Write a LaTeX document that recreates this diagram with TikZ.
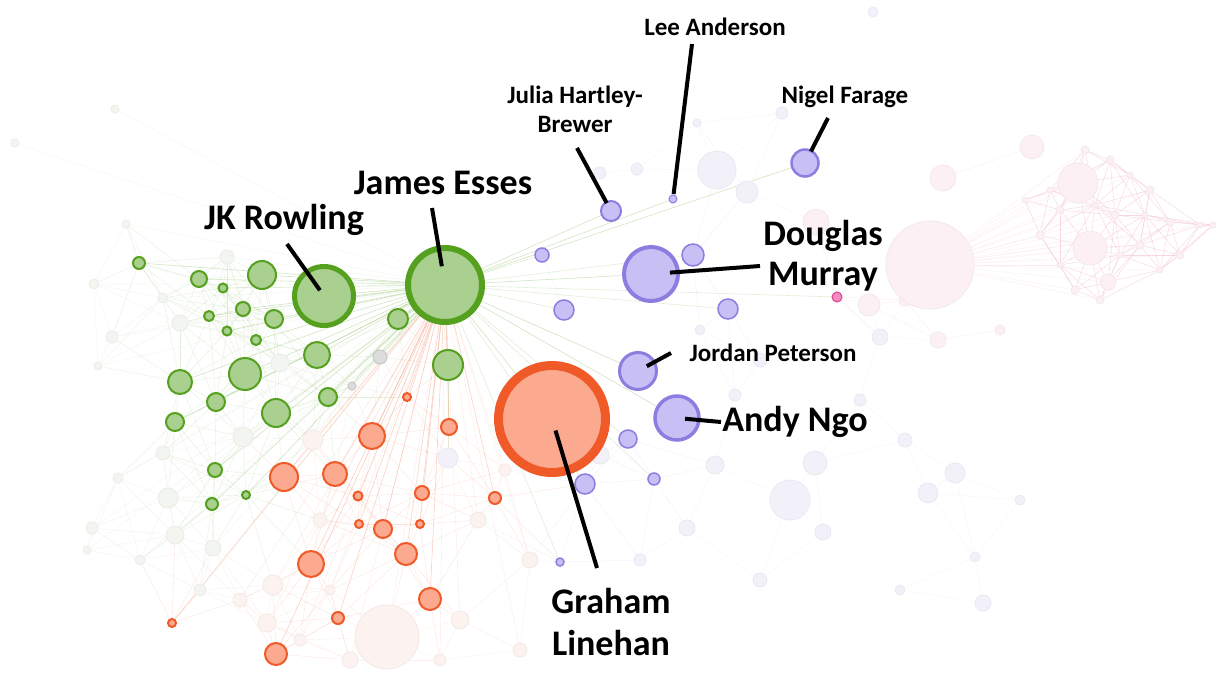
\documentclass[tikz,border=0pt]{standalone}
\usepackage{fontspec}
\setmainfont{Carlito}
\usetikzlibrary{positioning,calc}
\pgfdeclarelayer{bg}
\pgfsetlayers{bg,main}

\definecolor{grfill}{HTML}{A9D08E}
\definecolor{grline}{HTML}{55A01E}
\definecolor{orfill}{HTML}{FBAA90}
\definecolor{orline}{HTML}{F05A28}
\definecolor{pufill}{HTML}{C8C0F5}
\definecolor{puline}{HTML}{8C7DE1}
\definecolor{gyfill}{HTML}{DCDCDC}
\definecolor{gyline}{HTML}{C8C8C8}
\definecolor{hpfill}{HTML}{F28CC0}
\definecolor{hpline}{HTML}{E0408A}
\definecolor{fgfill}{HTML}{F2F5F0}
\definecolor{fofill}{HTML}{FCF2EF}
\definecolor{flfill}{HTML}{F2F1FA}
\definecolor{fpfill}{HTML}{FCF0F5}

\tikzset{
  gnode/.style={circle, draw=grline, fill=grfill, line width=2pt, inner sep=0pt},
  onode/.style={circle, draw=orline, fill=orfill, line width=2pt, inner sep=0pt},
  pnode/.style={circle, draw=puline, fill=pufill, line width=1.5pt, inner sep=0pt},
  ynode/.style={circle, draw=gyline, fill=gyfill, line width=1pt, inner sep=0pt},
  hnode/.style={circle, draw=hpline, fill=hpfill, line width=1pt, inner sep=0pt},
  fadeg/.style={circle, draw=fgfill!93!gray, fill=fgfill, line width=0.8pt, inner sep=0pt},
  fadeo/.style={circle, draw=fofill!93!gray, fill=fofill, line width=0.8pt, inner sep=0pt},
  fadel/.style={circle, draw=flfill!93!gray, fill=flfill, line width=0.8pt, inner sep=0pt},
  fadep/.style={circle, draw=fpfill!93!gray, fill=fpfill, line width=0.8pt, inner sep=0pt},
  % web of faint edges, coloured by the first end
  edgegnode/.style={draw=grline!35, line width=0.35pt, opacity=0.45},
  edgeonode/.style={draw=orline!35, line width=0.35pt, opacity=0.45},
  edgepnode/.style={draw=puline!30, line width=0.35pt, opacity=0.4},
  edgeynode/.style={draw=gray!30, line width=0.35pt, opacity=0.4},
  edgehnode/.style={draw=hpline!30, line width=0.35pt, opacity=0.4},
  edgefadeg/.style={draw=gray!25, line width=0.35pt, opacity=0.4},
  edgefadeo/.style={draw=orline!25, line width=0.35pt, opacity=0.4},
  edgefadel/.style={draw=puline!20, line width=0.35pt, opacity=0.4},
  edgefadep/.style={draw=hpline!25, line width=0.35pt, opacity=0.4},
  % fan out of James Esses
  fangnode/.style={draw=grline!60, line width=0.6pt, opacity=0.45},
  fanonode/.style={draw=orline!60, line width=0.6pt, opacity=0.45},
  fanpnode/.style={draw=grline!35, line width=0.6pt, opacity=0.5},
  fanynode/.style={draw=grline!40, line width=0.6pt, opacity=0.4},
  fanhnode/.style={draw=grline!35, line width=0.6pt, opacity=0.5},
  fanfadeg/.style={draw=grline!25, line width=0.4pt, opacity=0.3},
  fanfadeo/.style={draw=orline!35, line width=0.4pt, opacity=0.35},
  fanfadel/.style={draw=none}, fanfadep/.style={draw=none},
  pinkedge/.style={draw=hpline!45, line width=0.45pt, opacity=0.45},
  lbl/.style={font=\fontsize{25}{29}\selectfont\bfseries, align=center, inner sep=0pt},
  biglbl/.style={font=\fontsize{36}{40}\selectfont\bfseries, align=center, inner sep=0pt},
  pointer/.style={line width=4pt, black},
}

% x/y/radius/kind
\def\allnodes{%
139/263/6/gnode, 199/279/8/gnode, 223/288/4.5/gnode, 262/275/14/gnode, 243/309/7/gnode,
209/316/5/gnode, 227/331/4.5/gnode, 256/340/5/gnode, 274/319/9/gnode, 398/319/10/gnode,
317/355/13/gnode, 448/365/15/gnode, 245/374/16/gnode, 180/382/12/gnode, 216/402/9/gnode,
328/397/9/gnode, 276/413/14/gnode, 175/422/9/gnode, 215/470/7/gnode, 246/495/4/gnode,
212/504/6/gnode,
380/357/7/ynode, 352/386/4/ynode,
407/397/4/onode, 449/427/8/onode, 372/436/13/onode, 284/477/14/onode, 335/474/12/onode,
358/496/4.5/onode, 422/493/7/onode, 495/498/6/onode, 359/524/4/onode, 383/529/9/onode,
420/524/4/onode, 406/554/11/onode, 311/564/13/onode, 430/599/11/onode, 338/618/6/onode,
172/623/4/onode, 276/654/11/onode,
542/255/7/pnode, 693/255/11/pnode, 564/310/10/pnode, 728/309/10/pnode, 628/439/9/pnode,
585/484/10/pnode, 654/479/6/pnode, 560/562/4/pnode,
837/297/5/hnode,
115/109/4/fadeg, 15/143/4/fadeg, 126/224/4/fadeg, 227/257/7/fadeg, 163/298/5/fadeg,
180/323/8/fadeg, 94/284/5/fadeg, 112/337/6/fadeg, 98/366/4/fadeg, 280/363/9/fadeg,
243/437/10/fadeg, 163/453/7/fadeg, 118/478/5/fadeg, 168/498/10/fadeg, 175/535/9/fadeg,
92/528/6/fadeg, 87/550/4/fadeg, 213/548/8/fadeg, 140/560/5/fadeg, 200/590/6/fadeg,
313/440/10/fadeo, 273/585/10/fadeo, 240/600/7/fadeo, 267/623/9/fadeo, 387/637/32/fadeo,
478/520/8/fadeo, 530/560/8/fadeo, 460/620/9/fadeo, 350/660/8/fadeo, 520/650/7/fadeo,
505/470/6/fadeo, 320/520/7/fadeo, 300/640/6/fadeo, 440/660/6/fadeo, 330/590/5/fadeo,
717/170/19/fadel, 747/192/11/fadel, 637/169/6/fadel, 782/113/6/fadel, 600/173/6/fadel,
697/123/4/fadel, 873/12/5/fadel, 790/500/20/fadel, 815/463/12/fadel, 928/493/10/fadel,
955/473/10/fadel, 823/532/8/fadel, 715/465/9/fadel, 687/528/8/fadel, 983/603/8/fadel,
975/557/5/fadel, 880/337/8/fadel, 448/458/10/fadel, 600/455/9/fadel, 735/395/6/fadel,
860/400/6/fadel, 905/440/7/fadel, 1020/500/5/fadel, 760/360/7/fadel, 700/330/5/fadel,
640/560/6/fadel, 760/580/7/fadel, 900/590/5/fadel,
1032/147/12/fadep, 943/178/13/fadep, 816/222/13/fadep, 869/305/11/fadep, 938/340/8/fadep,
905/300/6/fadep, 1000/330/5/fadep}

% the pink cluster on the right
\def\pinkset{%
1078/183/20, 1090/248/17, 1108/282/8, 1085/150/4, 1110/160/4, 1150/190/4, 1170/222/4,
1140/245/4, 1060/210/4, 1040/235/4, 1115/215/4, 1180/255/4, 1100/300/4, 1075/290/4,
1050/190/3, 1025/200/3, 1200/225/3, 1213/225/3, 1130/175/3, 1160/270/3, 1060/265/3,
1120/255/3, 1095/205/3, 1145/215/3}

\begin{document}
\begin{tikzpicture}[x=1pt, y=-1pt]
    \useasboundingbox (0,0) rectangle (1218,688);

    % small nodes
    \foreach \x/\y/\r/\k [count=\i] in \allnodes
        \node[\k, minimum size=2*\r pt] (n\i) at (\x,\y) {};
    \foreach \x/\y/\r [count=\i] in \pinkset
        \node[fadep, minimum size=2*\r pt] (c\i) at (\x,\y) {};
    \node[fadep, minimum size=88pt] (pbig) at (930,265) {};

    % the named accounts
    \node[gnode, line width=5pt, minimum size=59pt] (rowling) at (324,296) {};
    \node[gnode, line width=6pt, minimum size=74pt] (esses) at (445,285) {};
    \node[onode, line width=9pt, minimum size=107pt] (linehan) at (552,419) {};
    \node[pnode, line width=4pt, minimum size=54pt] (murray) at (651,274) {};
    \node[pnode, line width=3pt, minimum size=37pt] (peterson) at (638,371) {};
    \node[pnode, line width=3.5pt, minimum size=44pt] (ngo) at (677,418) {};
    \node[pnode, line width=2.5pt, minimum size=27pt] (farage) at (805,163) {};
    \node[pnode, line width=2pt, minimum size=20pt] (hartley) at (611,211) {};
    \node[pnode, line width=1pt, minimum size=8pt] (anderson) at (673,199) {};

    \begin{pgfonlayer}{bg}
        \fill[white] (0,0) rectangle (1218,688);
        % faint web between close nodes
        \foreach \xa/\ya/\ra/\ka [count=\i] in \allnodes {
            \foreach \xb/\yb/\rb/\kb [count=\j] in \allnodes {
                \ifnum\j>\i
                    \pgfmathsetmacro\dd{veclen(\xa-\xb,\ya-\yb)}
                    \ifdim\dd pt<95pt \draw[edge\ka] (n\i) -- (n\j); \fi
                \fi
            }
            \draw[fan\ka] (esses) -- (n\i);
        }
        \foreach \xa/\ya/\ra [count=\i] in \pinkset {
            \foreach \xb/\yb/\rb [count=\j] in \pinkset {
                \ifnum\j>\i
                    \pgfmathsetmacro\dd{veclen(\xa-\xb,\ya-\yb)}
                    \ifdim\dd pt<70pt \draw[pinkedge] (c\i) -- (c\j); \fi
                \fi
            }
            \draw[edgefadep] (pbig) -- (c\i);
        }
        \foreach \t in {rowling, linehan, murray, peterson, ngo, farage, hartley, anderson}
            \draw[fangnode] (esses) -- (\t);
    \end{pgfonlayer}

    % labels
    \node[lbl] (lee) at (715,27) {Lee Anderson};
    \node[lbl] (julia) at (575,109) {Julia Hartley-\\Brewer};
    \node[lbl] (nigel) at (845,97) {Nigel Farage};
    \node[lbl] (jordan) at (773,353) {Jordan Peterson};
    \node[biglbl] (james) at (443,183) {James Esses};
    \node[biglbl] (jk) at (284,220) {JK Rowling};
    \node[biglbl] (douglas) at (823,256) {Douglas\\Murray};
    \node[biglbl] (andy) at (795,422) {Andy Ngo};
    \node[biglbl, font=\fontsize{36}{42}\selectfont\bfseries] (graham) at (611,622) {Graham\\Linehan};

    % pointers from the labels
    \coordinate (tjk) at (287,244);
    \coordinate (tjames) at (432,208);
    \coordinate (tjulia) at (577,148);
    \coordinate (tlee) at (692,44);
    \coordinate (tnigel) at (828,118);
    \coordinate (tdouglas) at (760,266);
    \coordinate (tjordan) at (671,353);
    \coordinate (tandy) at (721,422);
    \coordinate (tgraham) at (597,568);
    \draw[pointer, shorten >=7pt] (tjk) -- (rowling.center);
    \draw[pointer, shorten >=19pt] (tjames) -- (esses.center);
    \draw[pointer, shorten >=9pt] (tjulia) -- (hartley.center);
    \draw[pointer, shorten >=5pt] (tlee) -- (anderson.center);
    \draw[pointer, shorten >=13pt] (tnigel) -- (farage.center);
    \draw[pointer, shorten >=19pt] (tdouglas) -- (murray.center);
    \draw[pointer, shorten >=10pt] (tjordan) -- (peterson.center);
    \draw[pointer, shorten >=8pt] (tandy) -- (ngo.center);
    \draw[pointer, shorten >=12pt] (tgraham) -- (linehan.center);
\end{tikzpicture}
\end{document}
